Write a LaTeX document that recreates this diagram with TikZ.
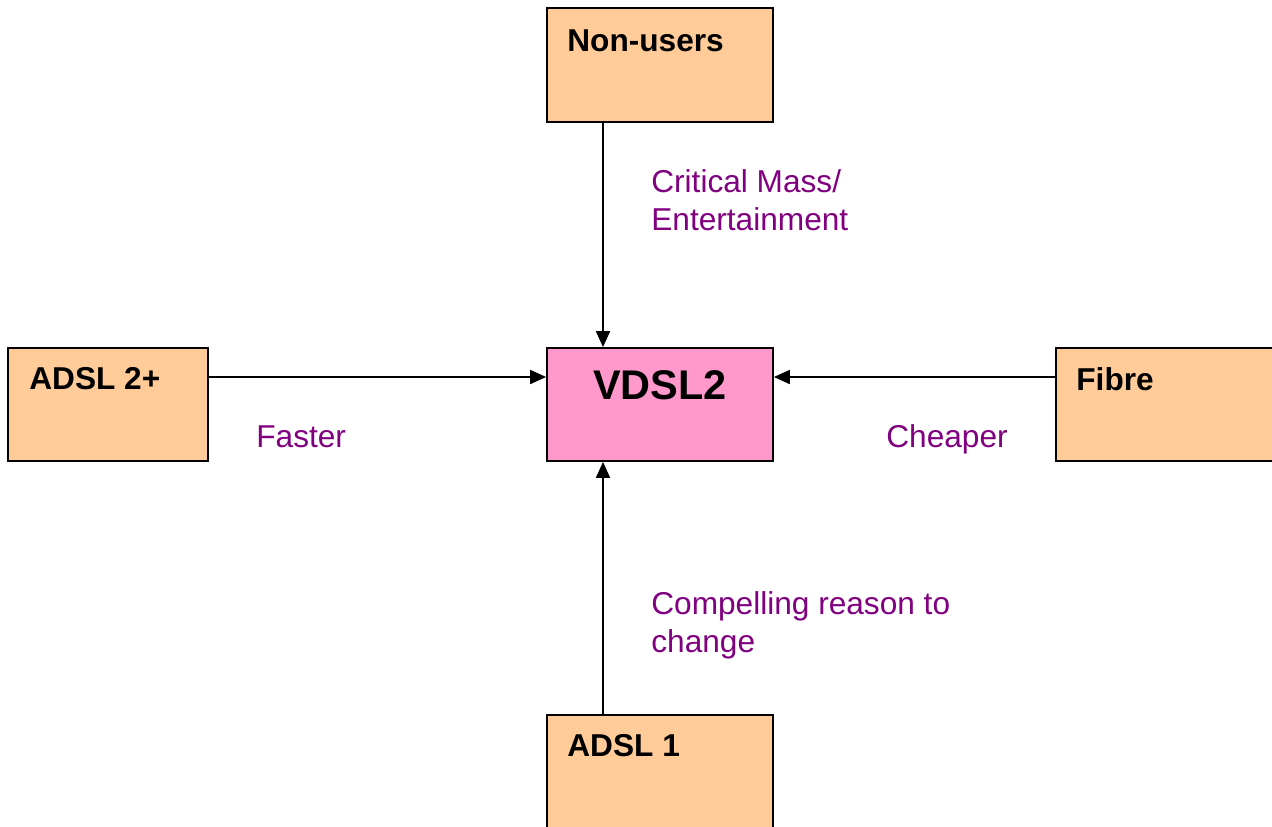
\documentclass[tikz,border=0pt]{standalone}
\usepackage{fontspec}
\setmainfont{Liberation Sans}
\usepackage{xcolor}
\usepackage{tikz}
\usetikzlibrary{positioning, calc, arrows.meta}

\definecolor{peach}{HTML}{FFCC99}
\definecolor{rosa}{HTML}{FF99CC}
\definecolor{plum}{HTML}{800080}

\begin{document}
\begin{tikzpicture}[x=0.02cm, y=-0.02cm,
    box/.style={draw, line width=1.1pt, fill=peach, minimum width=4.52cm, minimum height=2.28cm, inner sep=0pt},
    hub/.style={box, fill=rosa, minimum height=2.26cm},
    boxtitle/.style={anchor=base west, inner sep=0pt, font=\fontsize{18}{21}\selectfont\bfseries},
    reason/.style={anchor=base west, inner sep=0pt, align=left, text=plum, font=\fontsize{18}{21.5}\selectfont},
    arr/.style={line width=0.7pt, -{Triangle[length=9pt,width=8pt]}}]
        \useasboundingbox (0,0) rectangle (1272,826);

        % Boxes
        \node[box] (nonusers) at (660,65) {};
        \node[hub] (vdsl) at (660,404.5) {};
        \node[box, minimum width=4cm, minimum height=2.26cm] (adsltwo) at (108,404.5) {};
        \node[box, minimum width=4.8cm, minimum height=2.26cm] (fibre) at (1176,404.5) {};
        \node[box] (adslone) at (660,772) {};

        % Box titles
        \node[boxtitle] (nonuserstxt) at ($(nonusers.north west)+(21,44)$) {Non-users};
        \node[boxtitle] (adsltwotxt) at ($(adsltwo.north west)+(22,42)$) {ADSL 2+};
        \node[boxtitle] (fibretxt) at ($(fibre.north west)+(21,43)$) {Fibre};
        \node[boxtitle] (adslonetxt) at ($(adslone.north west)+(21,42)$) {ADSL 1};
        \node[boxtitle, anchor=base, font=\fontsize{23.6}{28}\selectfont\bfseries] (vdsltxt) at ($(vdsl.north)+(0,52)$) {VDSL2};

        % Connectors
        \coordinate (vaxis) at (603,0);
        \coordinate (haxis) at (0,377);
        \draw[arr] (nonusers.south -| vaxis) -- (vdsl.north -| vaxis);
        \draw[arr] (adslone.north -| vaxis) -- (vdsl.south -| vaxis);
        \draw[arr] (adsltwo.east |- haxis) -- (vdsl.west |- haxis);
        \draw[arr] (fibre.west |- haxis) -- (vdsl.east |- haxis);

        % Reasons
        \node[reason] (critical) at (651,230) {Critical Mass/\\Entertainment};
        \node[reason] (faster) at (256,447) {Faster};
        \node[reason] (cheaper) at (886,447) {Cheaper};
        \node[reason] (compelling) at (651,652) {Compelling reason to\\change};
\end{tikzpicture}
\end{document}
